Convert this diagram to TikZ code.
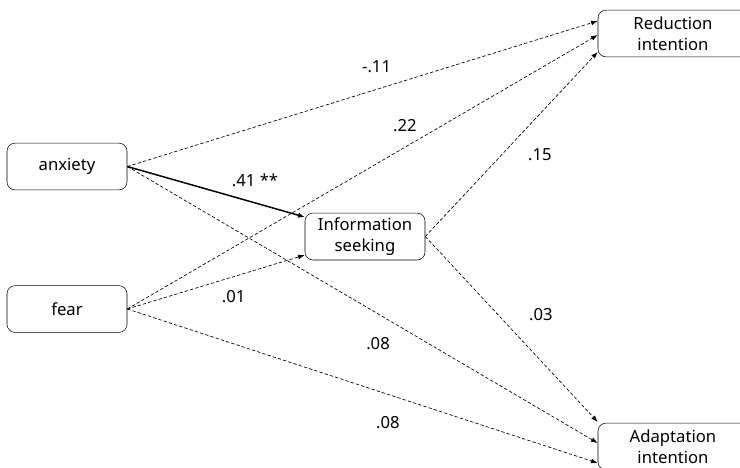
\documentclass[tikz,border=0pt]{standalone}
\usepackage{fontspec}
\setmainfont{Noto Sans}
\usetikzlibrary{arrows.meta}
\tikzstyle{block} = [rectangle, draw, rounded corners=6pt, align=center,
    minimum width=90pt, minimum height=35pt, font=\fontsize{12.5}{16}\selectfont]
\tikzstyle{wide} = [block, minimum width=112.5pt]
\tikzstyle{line} = [draw, -{Latex[length=5pt,width=4pt]}, line width=1.1pt]
\tikzstyle{weak} = [draw, -{Latex[length=5pt,width=3.6pt]}, line width=0.5pt, dash pattern=on 2.5pt off 1.6pt]
\tikzstyle{coef} = [font=\fontsize{12.5}{15}\selectfont]

\begin{document}
\begin{tikzpicture}[x=0.75pt,y=-0.75pt]
    \clip (0,0) rectangle (740,468);

    \node [block] (anxiety) at (67,166.5) {anxiety};
    \node [block] (fear) at (67,309) {fear};
    \node [block] (info) at (365,236.5) {Information\\seeking};
    \node [wide] (reduction) at (673,33.5) {Reduction\\intention};
    \node [wide] (adapt) at (673,446.5) {Adaptation\\intention};

    % Draw edges
    \path [line] (anxiety.east) -- node[coef,pos=0.72,yshift=17pt] {.41 **} ([yshift=14.6pt]info.west);
    \path [weak] (fear.east) -- node[coef,pos=0.6,yshift=-15pt] {.01} ([yshift=-13.9pt]info.west);
    \path [weak] (anxiety.east) -- node[coef,pos=0.53,yshift=17pt] {-.11} ([yshift=9.4pt]reduction.west);
    \path [weak] (fear.east) -- node[coef,pos=0.59,yshift=16.5pt] {.22} ([yshift=-1.1pt]reduction.west);
    \path [weak] (info.east) -- node[coef,pos=0.665,yshift=-30.7pt] {.15} ([yshift=-13.9pt]reduction.west);
    \path [weak] (info.east) -- node[coef,pos=0.67,yshift=34.5pt] {.03} ([yshift=18.4pt]adapt.west);
    \path [weak] (anxiety.east) -- node[coef,pos=0.533,yshift=-22pt] {.08} ([yshift=2.6pt]adapt.west);
    \path [weak] (fear.east) -- node[coef,pos=0.554,yshift=-21.5pt] {.08} ([yshift=-12.4pt]adapt.west);

\end{tikzpicture}
\end{document}
